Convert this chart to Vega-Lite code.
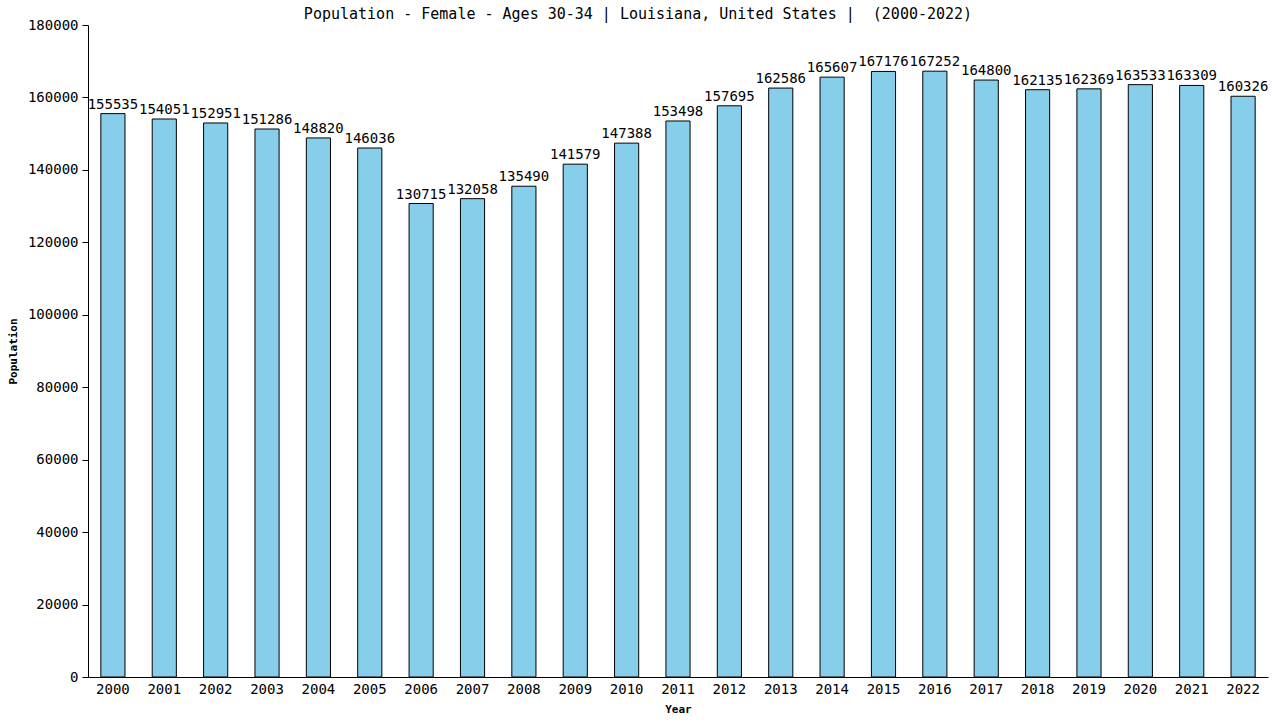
{
  "$schema": "https://vega.github.io/schema/vega-lite/v6.json",
  "width": 1180,
  "height": 652,
  "autosize": {"type": "none"},
  "padding": {"left": 88, "top": 25, "right": 12, "bottom": 43},
  "background": "white",
  "title": {
    "text": "Population - Female - Ages 30-34 | Louisiana, United States | \u00a0(2000-2022)",
    "font": "DejaVu Sans Mono",
    "fontSize": 15,
    "fontWeight": "normal",
    "color": "black",
    "anchor": "middle",
    "dx": -40,
    "offset": -4
  },
  "data": {
    "values": [
      {"year": "2000", "value": 155535},
      {"year": "2001", "value": 154051},
      {"year": "2002", "value": 152951},
      {"year": "2003", "value": 151286},
      {"year": "2004", "value": 148820},
      {"year": "2005", "value": 146036},
      {"year": "2006", "value": 130715},
      {"year": "2007", "value": 132058},
      {"year": "2008", "value": 135490},
      {"year": "2009", "value": 141579},
      {"year": "2010", "value": 147388},
      {"year": "2011", "value": 153498},
      {"year": "2012", "value": 157695},
      {"year": "2013", "value": 162586},
      {"year": "2014", "value": 165607},
      {"year": "2015", "value": 167176},
      {"year": "2016", "value": 167252},
      {"year": "2017", "value": 164800},
      {"year": "2018", "value": 162135},
      {"year": "2019", "value": 162369},
      {"year": "2020", "value": 163533},
      {"year": "2021", "value": 163309},
      {"year": "2022", "value": 160326}
    ]
  },
  "encoding": {
    "x": {
      "field": "year",
      "type": "ordinal",
      "scale": {"paddingInner": 0.53, "paddingOuter": 0.25},
      "axis": {
        "title": "Year",
        "titleFont": "DejaVu Sans Mono",
        "titleFontSize": 11,
        "titleFontWeight": "bold",
        "titlePadding": 7,
        "labelFont": "DejaVu Sans Mono",
        "labelFontSize": 14,
        "labelAngle": 0,
        "labelColor": "black",
        "labelPadding": 5,
        "ticks": false,
        "domainColor": "black",
        "grid": false
      }
    },
    "y": {
      "field": "value",
      "type": "quantitative",
      "scale": {"domain": [0, 180000], "nice": false},
      "axis": {
        "title": "Population",
        "titleFont": "DejaVu Sans Mono",
        "titleFontSize": 11,
        "titleFontWeight": "bold",
        "titlePadding": 9,
        "values": [0, 20000, 40000, 60000, 80000, 100000, 120000, 140000, 160000, 180000],
        "format": "d",
        "labelFont": "DejaVu Sans Mono",
        "labelFontSize": 14,
        "labelColor": "black",
        "tickColor": "black",
        "tickSize": 6,
        "labelPadding": 4,
        "domainColor": "black",
        "grid": false
      }
    }
  },
  "layer": [
    {
      "mark": {"type": "bar", "fill": "#87CEEB", "stroke": "black", "strokeWidth": 1}
    },
    {
      "mark": {
        "type": "text",
        "baseline": "bottom",
        "dy": -2,
        "font": "DejaVu Sans Mono",
        "fontSize": 14,
        "color": "black"
      },
      "encoding": {"text": {"field": "value", "type": "quantitative", "format": "d"}}
    }
  ],
  "config": {"view": {"stroke": null}}
}
